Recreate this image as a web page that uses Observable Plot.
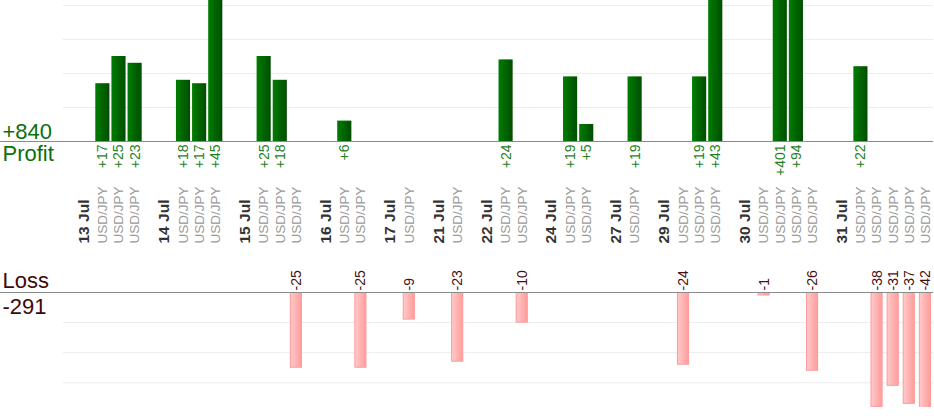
<!DOCTYPE html>
<html>
<head>
<meta charset="utf-8">
<script src="https://cdn.jsdelivr.net/npm/d3@7"></script>
<script src="https://cdn.jsdelivr.net/npm/@observablehq/plot@0.6"></script>
<style>
  html, body { margin: 0; padding: 0; background: #fff; }
  #chart { width: 934px; height: 420px; overflow: hidden; }
  #chart svg { display: block; }
</style>
</head>
<body>
<div id="chart"></div>
<script>
// ---- data ----
const dates = ["13 Jul", "14 Jul", "15 Jul", "16 Jul", "17 Jul", "21 Jul", "22 Jul", "24 Jul", "27 Jul", "29 Jul", "30 Jul", "31 Jul"];
const tradeResults = [
  [17, 25, 23],
  [18, 17, 45],
  [25, 18, -25],
  [6, -25],
  [-9],
  [-23],
  [24, -10],
  [19, 5],
  [19],
  [-24, 19, 43],
  [-1, 401, 94, -26],
  [22, -38, -31, -37, -42]
];
const pair = "USD/JPY";
const profitTitle = "Profit";
const lossTitle = "Loss";
const profitGrid = [10, 20, 30, 40];
const lossGrid = [-10, -20, -30];

// ---- build slot table: date slot, trade slots, gap slot ----
const dateRows = [];
const tradeRows = [];
let slot = 0;
dates.forEach((d, k) => {
  dateRows.push({slot, label: d});
  slot++;
  tradeResults[k].forEach(v => { tradeRows.push({slot, value: v, label: pair}); slot++; });
  if (k < dates.length - 1) slot++;
});
const slots = d3.range(slot);
const profits = tradeRows.filter(d => d.value > 0);
const losses = tradeRows.filter(d => d.value < 0);
const totalProfit = "+" + d3.sum(profits, d => d.value);
const totalLoss = String(d3.sum(losses, d => d.value));

const font = "Liberation Sans, Arial, Helvetica, sans-serif";
const W = 934;
const xScale = {type: "band", domain: slots, padding: 0, paddingOuter: 0.47, align: 1, round: false, axis: null};

function gradientDefs() {
  const defs = d3.create("svg:defs");
  const g = defs.append("linearGradient").attr("id", "gradProfit").attr("x1", "0").attr("x2", "1").attr("y1", "0").attr("y2", "0");
  g.append("stop").attr("offset", "0%").attr("stop-color", "#007d00");
  g.append("stop").attr("offset", "100%").attr("stop-color", "#004d00");
  const l = defs.append("linearGradient").attr("id", "gradLoss").attr("x1", "0").attr("x2", "1").attr("y1", "0").attr("y2", "0");
  l.append("stop").attr("offset", "0%").attr("stop-color", "#ffcaca");
  l.append("stop").attr("offset", "100%").attr("stop-color", "#ff9c9c");
  return defs.node();
}

// ---- top panel: profits + category labels ----
const profitPanel = Plot.plot({
  width: W,
  height: 250,
  marginLeft: 63,
  marginRight: 1,
  marginTop: 0,
  marginBottom: 109,
  style: {fontFamily: font, background: "#fff", overflow: "visible"},
  x: xScale,
  y: {domain: [0, 141 / 3.4], axis: null},
  marks: [
    gradientDefs,
    Plot.ruleY(profitGrid, {stroke: "#ececec", strokeWidth: 1}),
    Plot.barY(profits, {x: "slot", y: "value", fill: "url(#gradProfit)", insetLeft: 1, insetRight: 1, clip: true}),
    Plot.ruleY([0], {stroke: "#8a8a8a", strokeWidth: 1.2, insetLeft: -63}),
    Plot.text(profits, {x: "slot", y: () => 0, text: d => "+" + d.value, rotate: -90, textAnchor: "end", dy: 3, fill: "#1f7f1f", fontSize: 14}),
    Plot.text(tradeRows, {x: "slot", y: () => 0, text: "label", rotate: -90, textAnchor: "start", dy: 102, fill: "#9a9a9a", fontSize: 13.5}),
    Plot.text(dateRows, {x: "slot", y: () => 0, text: "label", rotate: -90, textAnchor: "start", dy: 102, dx: -3, fill: "#333", fontSize: 15.5, fontWeight: "bold"}),
    Plot.text([totalProfit], {y: () => 0, frameAnchor: "left", text: d => d, textAnchor: "start", lineAnchor: "bottom", dx: -61, dy: -3, fill: "#0d6f0d", fontSize: 22}),
    Plot.text([profitTitle], {y: () => 0, frameAnchor: "left", text: d => d, textAnchor: "start", lineAnchor: "top", dx: -61, dy: 4, fill: "#0d6f0d", fontSize: 22})
  ]
});

// ---- bottom panel: losses ----
const lossPanel = Plot.plot({
  width: W,
  height: 170,
  marginLeft: 63,
  marginRight: 1,
  marginTop: 42,
  marginBottom: 13,
  style: {fontFamily: font, background: "#fff", overflow: "visible"},
  x: xScale,
  y: {domain: [-115 / 3.01, 0], axis: null},
  marks: [
    gradientDefs,
    Plot.ruleY(lossGrid, {stroke: "#ececec", strokeWidth: 1}),
    Plot.barY(losses, {x: "slot", y: "value", fill: "url(#gradLoss)", stroke: "#ff9a9a", strokeWidth: 1, insetLeft: 2.5, insetRight: 2.5, clip: true}),
    Plot.ruleY([0], {stroke: "#8a8a8a", strokeWidth: 1.2, insetLeft: -63}),
    Plot.text(losses, {x: "slot", y: () => 0, text: d => String(d.value), rotate: -90, textAnchor: "start", dy: -2, fill: "#4a1010", fontSize: 14}),
    Plot.text([lossTitle], {y: () => 0, frameAnchor: "left", text: d => d, textAnchor: "start", lineAnchor: "bottom", dx: -61, dy: -5, fill: "#3d0a0a", fontSize: 22}),
    Plot.text([totalLoss], {y: () => 0, frameAnchor: "left", text: d => d, textAnchor: "start", lineAnchor: "top", dx: -61, dy: 6, fill: "#3d0a0a", fontSize: 22})
  ]
});

const chart = document.getElementById("chart");
chart.appendChild(profitPanel);
chart.appendChild(lossPanel);
</script>
</body>
</html>
